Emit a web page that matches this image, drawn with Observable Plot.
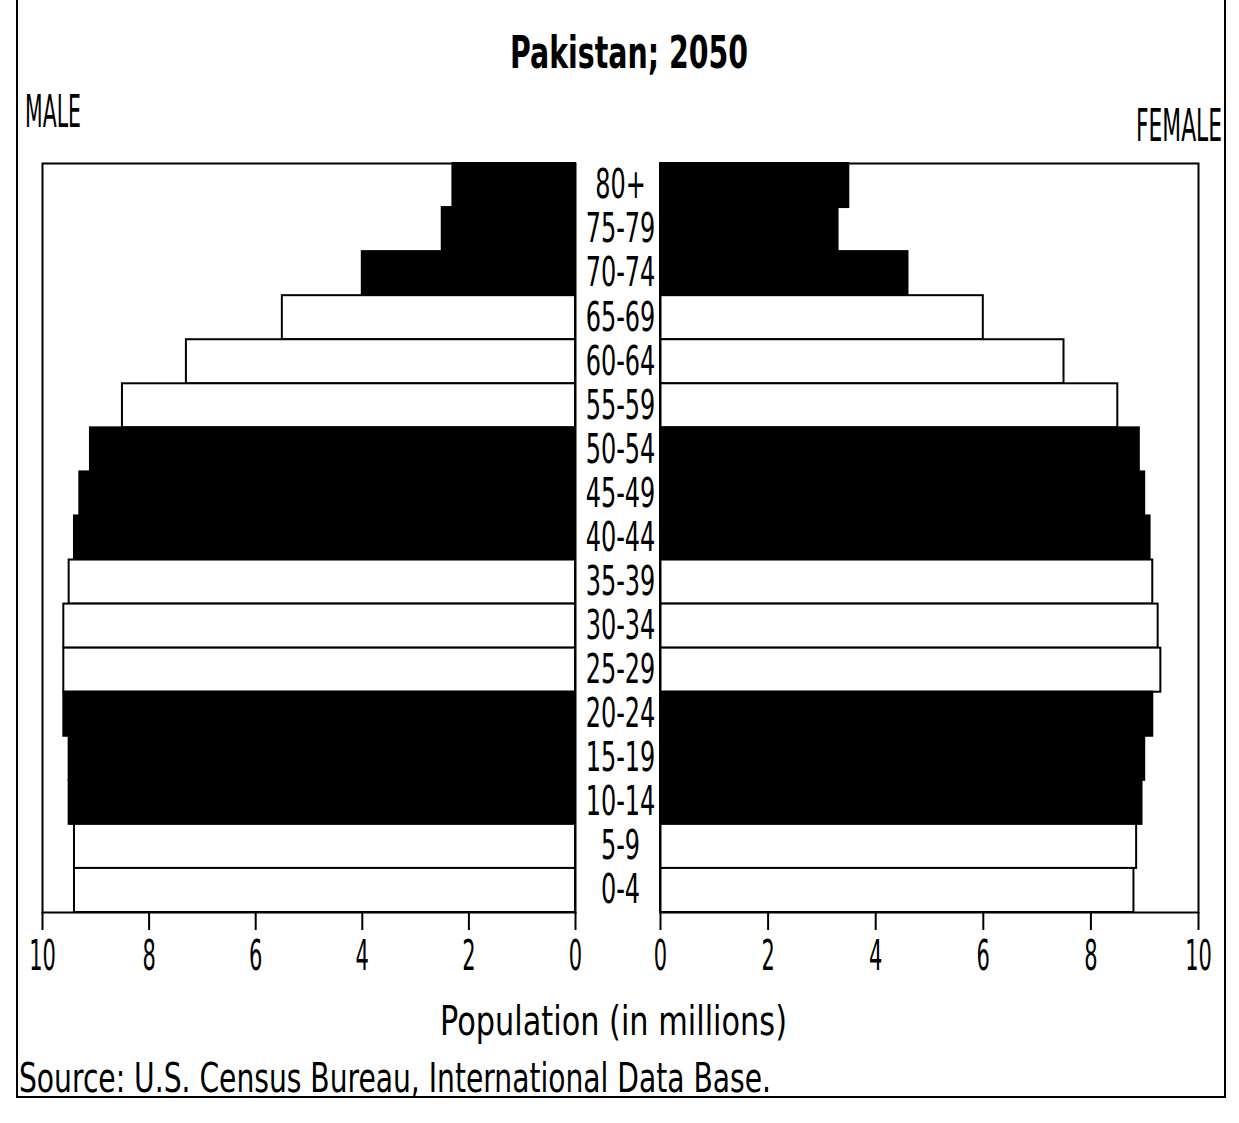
<!DOCTYPE html>
<html>
<head>
<meta charset="utf-8">
<script src="https://cdn.jsdelivr.net/npm/d3@7"></script>
<script src="https://cdn.jsdelivr.net/npm/@observablehq/plot@0.6"></script>
<style>
  html, body { margin: 0; padding: 0; background: #fff; }
  #page { position: relative; width: 1239px; height: 1123px; overflow: hidden; background: #fff;
          font-family: "DejaVu Sans", sans-serif; color: #000; }
  .txt { position: absolute; white-space: nowrap; line-height: 1; transform-origin: 0 0; }
  #border { position: absolute; left: 16px; top: 0; width: 1210px; height: 1098px;
            border-left: 2px solid #000; border-right: 2px solid #000; border-bottom: 2px solid #000; box-sizing: border-box; }
  .panel { position: absolute; top: 140px; }
</style>
</head>
<body>
<div id="page">
  <div id="border"></div>
  <div class="txt" id="title" style="font-weight:bold;font-size:44px;top:31px;">Pakistan; 2050</div>
  <div class="txt" id="male" style="font-size:44px;top:90px;left:25px;">MALE</div>
  <div class="txt" id="female" style="font-size:44px;top:104px;">FEMALE</div>
  <div class="panel" id="left" style="left:0px;"></div>
  <div class="panel" id="right" style="left:640px;"></div>
  <div class="txt" id="xlabel" style="font-size:40px;top:1001px;">Population (in millions)</div>
  <div class="txt" id="source" style="font-size:40px;top:1058px;left:19px;">Source: U.S. Census Bureau, International Data Base.</div>
</div>
<script>
// ---- data ----
const ages = ["80+","75-79","70-74","65-69","60-64","55-59","50-54","45-49","40-44","35-39","30-34","25-29","20-24","15-19","10-14","5-9","0-4"];
const male = [2.3, 2.5, 4.0, 5.5, 7.3, 8.5, 9.1, 9.3, 9.4, 9.5, 9.6, 9.6, 9.6, 9.5, 9.5, 9.4, 9.4];
const female = [3.5, 3.3, 4.6, 6.0, 7.5, 8.5, 8.9, 9.0, 9.1, 9.15, 9.25, 9.3, 9.15, 9.0, 8.95, 8.85, 8.8];
const xTicks = [0, 2, 4, 6, 8, 10];

const font = '"DejaVu Sans", sans-serif';
const shade = (i) => Math.floor(i / 3) % 2 === 0 ? "black" : "white";
const maleData = ages.map((a, i) => ({age: a, value: male[i], fill: shade(i)}));
const femaleData = ages.map((a, i) => ({age: a, value: female[i], fill: shade(i)}));

function panel(data, opts) {
  return Plot.plot({
    width: opts.width,
    height: 842,
    marginTop: 23,
    marginBottom: 70,
    marginLeft: opts.marginLeft,
    marginRight: opts.marginRight,
    style: {fontFamily: font, fontSize: "36px", background: "transparent", overflow: "visible", color: "#000"},
    x: {domain: opts.domain, axis: null},
    y: {domain: ages, padding: 0, round: false, axis: null},
    color: {type: "identity"},
    marks: [
      Plot.barX(data, {x: "value", y: "age", fill: "fill", stroke: "black", strokeWidth: 2}),
      Plot.frame({stroke: "black", strokeWidth: 2}),
      Plot.axisX({ticks: xTicks, tickSize: 18, tickPadding: 10, strokeWidth: 2, label: null, fontSize: 42}),
      ...(opts.ages ? [Plot.axisY({anchor: "right", tickSize: 0, tickPadding: 45, textAnchor: "middle", label: null, fontSize: 40})] : [])
    ]
  });
}

const leftSvg = panel(maleData, {width: 660, marginLeft: 42, marginRight: 85, domain: [10, 0], ages: true});
const rightSvg = panel(femaleData, {width: 599, marginLeft: 20, marginRight: 41, domain: [0, 10], ages: false});
document.getElementById("left").append(leftSvg);
document.getElementById("right").append(rightSvg);

// squeeze SVG tick texts horizontally to mimic the narrow bitmap lettering
function squeeze(nodes, k) {
  nodes.forEach(t => {
    const L = t.getComputedTextLength();
    if (L > 0) { t.setAttribute("textLength", L * k); t.setAttribute("lengthAdjust", "spacingAndGlyphs"); }
  });
}
for (const svg of [leftSvg, rightSvg]) {
  squeeze(svg.querySelectorAll('g[aria-label="x-axis tick label"] text'), 0.5);
  squeeze(svg.querySelectorAll('g[aria-label="y-axis tick label"] text'), 0.6);
}

// squeeze HTML texts to match the narrow bitmap lettering
function fit(id, width, opt) {
  const el = document.getElementById(id);
  const w = el.getBoundingClientRect().width;
  el.style.transform = `scaleX(${width / w})`;
  if (opt && opt.center != null) el.style.left = (opt.center - width / 2) + "px";
  if (opt && opt.right != null) el.style.left = (opt.right - width) + "px";
}
fit("title", 238, {center: 629});
fit("male", 56);
fit("female", 86, {right: 1222});
fit("xlabel", 347, {center: 613});
fit("source", 752);
</script>
</body>
</html>
